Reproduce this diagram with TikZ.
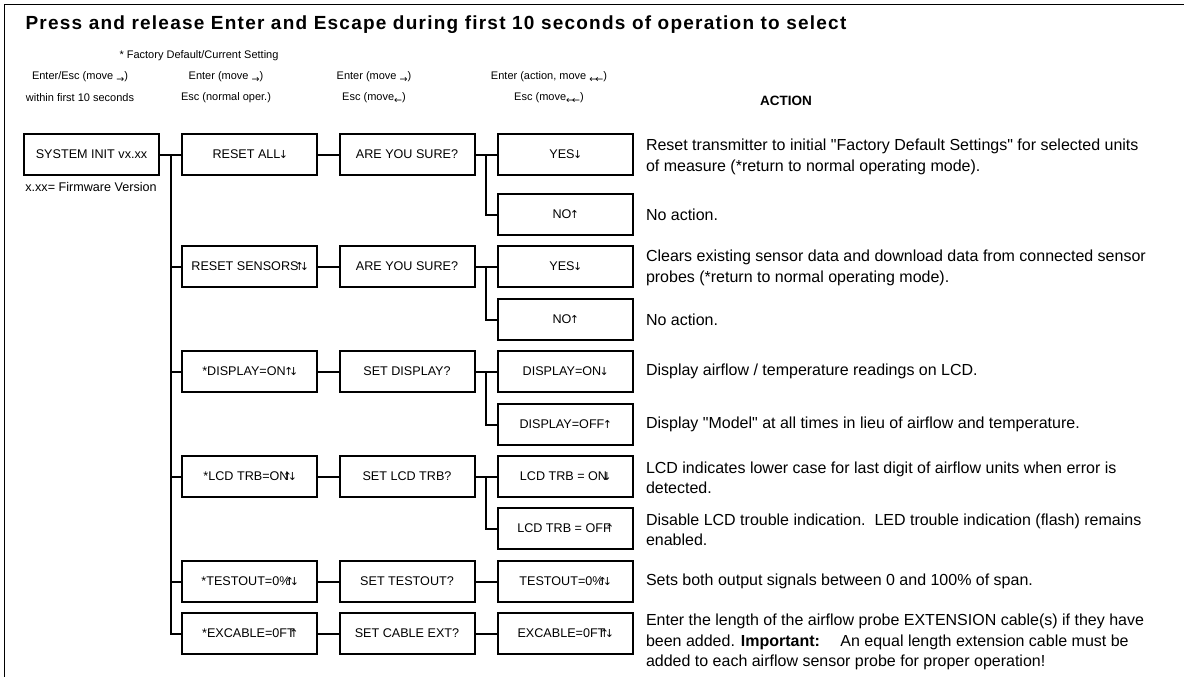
\documentclass[tikz,border=0pt]{standalone}
\usepackage{fontspec}
\setmainfont{Liberation Sans}
\newfontfamily\arw{DejaVu Sans}
\newcommand\sarr[1]{\raisebox{-2.5pt}{\arw\fontsize{9.5}{10}\selectfont#1}}
\newcommand\up{\makebox[6pt]{\arw\fontsize{11}{11}\selectfont↑}}
\newcommand\dn{\makebox[6pt]{\arw\fontsize{11}{11}\selectfont↓}}
\newcommand\ov{\kern-4pt}
\begin{document}
\begin{tikzpicture}
  [x=1pt,y=-1pt,line width=2pt,
   every node/.style={inner sep=0pt,font=\fontsize{12.6}{14}\selectfont},
   box/.style={draw,minimum width=135pt,minimum height=41pt},
   hint/.style={font=\fontsize{11}{13}\selectfont},
   note/.style={anchor=west,align=left,font=\fontsize{16}{20.5}\selectfont}]
  \useasboundingbox (0,0) rectangle (1184,677);
  \draw[line width=1.3pt] (4.5,677) -- (4.5,4.5) -- (1184,4.5);

  % headings
  \node (title) at (436,25) {\fontsize{19}{22}\selectfont\bfseries\addfontfeature{LetterSpace=6.5}Press and release Enter and Escape during first 10 seconds of operation to select};
  \node[hint] (dflt) at (199,56) {* Factory Default/Current Setting};
  \node[hint] (h1) at (80,77)  {Enter/Esc (move \sarr{→})};
  \node[hint] (h2) at (226,77) {Enter (move \sarr{→})};
  \node[hint] (h3) at (374,77) {Enter (move \sarr{→})};
  \node[hint] (h4) at (549,77) {Enter (action, move \sarr{←\kern-2pt←})};
  \node[hint] (k1) at (80,98)  {within first 10 seconds};
  \node[hint] (k2) at (226,98) {Esc (normal oper.)};
  \node[hint] (k3) at (374,98) {Esc (move\sarr{←})};
  \node[hint] (k4) at (549,98) {Esc (move\sarr{←\kern-2pt←})};
  \node (act) at (786,101) {\fontsize{13.5}{16}\selectfont\bfseries ACTION};

  % menu boxes
  \node[box] (sys) at (91.5,154.5) {SYSTEM INIT vx.xx};
  \node (fw) at (91,187) {x.xx= Firmware Version};

  \node[box] (a1) at (249.5,154.5) {RESET ALL\dn};
  \node[box] (a2) at (249.5,266.5) {RESET SENSORS\kern-2pt\up\kern-1pt\dn};
  \node[box] (a3) at (249.5,371.5) {*DISPLAY=ON\up\kern-1pt\dn};
  \node[box] (a4) at (249.5,476.5) {*LCD TRB=ON\ov\up\kern-1pt\dn};
  \node[box] (a5) at (249.5,581.5) {*TESTOUT=0\%\ov\up\kern-1pt\dn};
  \node[box] (a6) at (249.5,633.5) {*EXCABLE=0FT\ov\up};

  \node[box] (b1) at (407,154.5) {ARE YOU SURE?};
  \node[box] (b2) at (407,266.5) {ARE YOU SURE?};
  \node[box] (b3) at (407,371.5) {SET DISPLAY?};
  \node[box] (b4) at (407,476.5) {SET LCD TRB?};
  \node[box] (b5) at (407,581.5) {SET TESTOUT?};
  \node[box] (b6) at (407,633.5) {SET CABLE EXT?};

  \node[box] (c1) at (565,154.5) {YES\dn};
  \node[box] (d1) at (565,214.5) {NO\up};
  \node[box] (c2) at (565,266.5) {YES\dn};
  \node[box] (d2) at (565,319.5) {NO\up};
  \node[box] (c3) at (565,371.5) {DISPLAY=ON\dn};
  \node[box] (d3) at (565,424.5) {DISPLAY=OFF\up};
  \node[box] (c4) at (565,476.5) {LCD TRB = ON\kern-3pt\dn};
  \node[box] (d4) at (565,528.5) {LCD TRB = OFF\ov\up};
  \node[box] (c5) at (565,581.5) {TESTOUT=0\%\ov\up\kern-1pt\dn};
  \node[box] (c6) at (565,633.5) {EXCABLE=0FT\ov\up\kern-1pt\dn};

  % actions
  \node[note] (e1) at (645,157) {Reset transmitter to initial \textquotedbl Factory Default Settings\textquotedbl\ for selected units\\of measure (*return to normal operating mode).};
  \node[note] (f1) at (645,214.5) {No action.};
  \node[note] (e2) at (645,268) {Clears existing sensor data and download data from connected sensor\\probes (*return to normal operating mode).};
  \node[note] (f2) at (645,319.5) {No action.};
  \node[note] (e3) at (645,371.5) {Display airflow / temperature readings on LCD.};
  \node[note] (f3) at (645,424.5) {Display \textquotedbl Model\textquotedbl\ at all times in lieu of airflow and temperature.};
  \node[note] (e4) at (645,478) {LCD indicates lower case for last digit of airflow units when error is\\detected.};
  \node[note] (f4) at (645,530) {Disable LCD trouble indication.\ \ LED trouble indication (flash) remains\\enabled.};
  \node[note] (e5) at (645,581.5) {Sets both output signals between 0 and 100\% of span.};
  \node[note] (e6) at (645,642) {Enter the length of the airflow probe EXTENSION cable(s) if they have\\been added. \textbf{Important:}\quad\ An equal length extension cable must be\\added to each airflow sensor probe for proper operation!};

  % connectors
  \coordinate (trunk) at (171,0);
  \coordinate (fork) at (486,0);
  \draw (sys.east) -- (a1.west);
  \draw (a1.west -| trunk) -- (a6.west -| trunk) -- (a6.west);
  \foreach \i in {2,...,5}
    \draw (a\i.west -| trunk) -- (a\i.west);
  \foreach \i in {1,...,6}
    \draw (a\i) -- (b\i) (b\i) -- (c\i);
  \foreach \i in {1,...,4}
    \draw (c\i.west -| fork) |- (d\i.west);
\end{tikzpicture}
\end{document}
